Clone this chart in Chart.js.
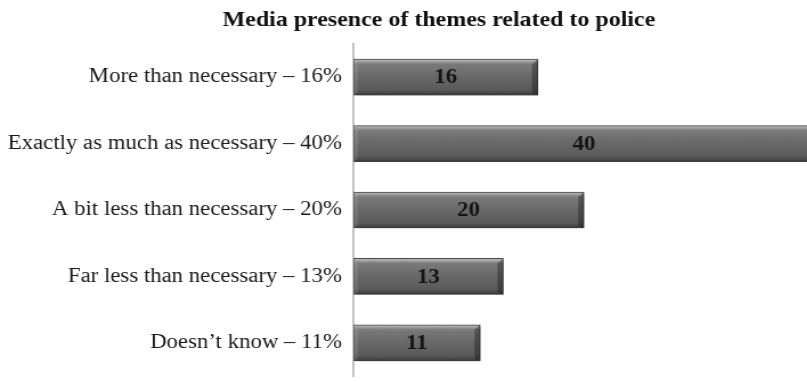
<!DOCTYPE html>
<html>
<head>
<meta charset="utf-8">
<script src="https://cdn.jsdelivr.net/npm/chart.js@4/dist/chart.umd.min.js"></script>
<style>
  html, body { margin: 0; padding: 0; background: #ffffff; width: 807px; height: 382px; overflow: hidden; }
  #wrap { width: 770px; height: 398px; transform: scaleX(1.14); transform-origin: 0 0; }
</style>
</head>
<body>
<div id="wrap"><canvas id="c" width="770" height="398"></canvas></div>
<script>
const chartTitle = 'Media presence of themes related to police';
const categories = [
  'More than necessary – 16%',
  'Exactly as much as necessary – 40%',
  'A bit less than necessary – 20%',
  'Far less than necessary – 13%',
  'Doesn’t know – 11%'
];
const values = [16, 40, 20, 13, 11];
const valueLabels = ['16', '40', '20', '13', '11'];

const BAR_T = 36;

function barGradient(context) {
  const chart = context.chart;
  const y = chart.scales && chart.scales.y;
  if (!y || context.dataIndex === undefined) return '#666666';
  const c = y.getPixelForValue(context.dataIndex);
  if (!isFinite(c)) return '#666666';
  const top = c - BAR_T / 2, bottom = c + BAR_T / 2;
  const g = chart.ctx.createLinearGradient(0, top, 0, bottom);
  g.addColorStop(0, '#c4c4c4');
  g.addColorStop(0.06, '#a2a2a2');
  g.addColorStop(0.14, '#7a7a7a');
  g.addColorStop(0.45, '#6a6a6a');
  g.addColorStop(0.85, '#5a5a5a');
  g.addColorStop(1, '#3c3c3c');
  return g;
}

const barFx = {
  id: 'barFx',
  beforeDatasetsDraw(chart) {
    const ctx = chart.ctx;
    ctx.save();
    ctx.shadowColor = 'rgba(0,0,0,0.30)';
    ctx.shadowBlur = 4;
    ctx.shadowOffsetX = 2;
    ctx.shadowOffsetY = 2;
  },
  afterDatasetsDraw(chart) {
    const ctx = chart.ctx;
    ctx.restore();
    const meta = chart.getDatasetMeta(0);
    ctx.save();
    meta.data.forEach((el, i) => {
      const left = el.base, right = el.x;
      const top = el.y - el.height / 2, bottom = el.y + el.height / 2;
      ctx.fillStyle = 'rgba(0,0,0,0.30)';
      ctx.beginPath();
      ctx.moveTo(right - 5, top + 5);
      ctx.lineTo(right, top);
      ctx.lineTo(right, bottom);
      ctx.lineTo(right - 5, bottom - 2);
      ctx.closePath();
      ctx.fill();
      ctx.fillStyle = 'rgba(255,255,255,0.10)';
      ctx.beginPath();
      ctx.moveTo(left, top);
      ctx.lineTo(left + 4, top + 5);
      ctx.lineTo(left + 4, bottom - 2);
      ctx.lineTo(left, bottom);
      ctx.closePath();
      ctx.fill();
      ctx.fillStyle = '#151515';
      ctx.font = 'bold 20px "Liberation Serif", "Times New Roman", serif';
      ctx.textAlign = 'center';
      ctx.textBaseline = 'middle';
      ctx.fillText(valueLabels[i], (left + right) / 2, el.y + 1);
    });
    ctx.restore();
  }
};

new Chart(document.getElementById('c'), {
  type: 'bar',
  data: {
    labels: categories,
    datasets: [{
      data: values,
      backgroundColor: barGradient,
      borderColor: '#4a4a4a',
      borderWidth: 1,
      borderSkipped: false,
      barThickness: BAR_T
    }]
  },
  options: {
    indexAxis: 'y',
    responsive: false,
    animation: false,
    devicePixelRatio: 1,
    layout: { padding: { left: 0, right: 0, top: 0, bottom: 0 } },
    plugins: {
      legend: { display: false },
      tooltip: { enabled: false },
      title: {
        display: true,
        text: chartTitle,
        color: '#111111',
        font: { family: '"Liberation Serif", "Times New Roman", serif', size: 21, weight: 'bold' },
        padding: { top: 8, bottom: 10.8 }
      }
    },
    scales: {
      x: {
        display: false,
        min: 0,
        max: 45.5
      },
      y: {
        grid: { display: false, drawTicks: false },
        border: { display: true, color: '#c2c2c2', width: 2 },
        ticks: {
          color: '#1a1a1a',
          padding: 10,
          font: { family: '"Liberation Serif", "Times New Roman", serif', size: 20 }
        },
        afterFit(scale) { scale.width = 310; }
      }
    }
  },
  plugins: [barFx]
});
</script>
</body>
</html>
